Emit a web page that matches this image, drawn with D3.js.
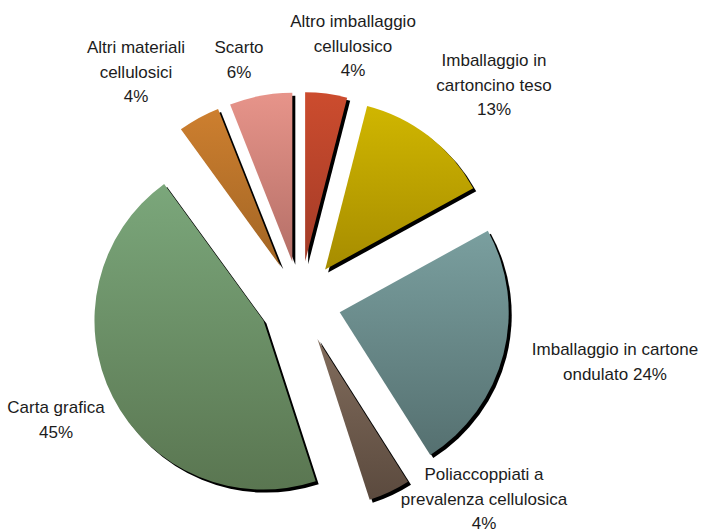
<!DOCTYPE html>
<html>
<head>
<meta charset="utf-8">
<script src="https://cdn.jsdelivr.net/npm/d3@7"></script>
<style>
  html, body { margin: 0; padding: 0; background: #ffffff; }
  svg { display: block; }
  text { font-family: "Liberation Sans", Arial, sans-serif; font-size: 17px; fill: #1c1c1c; }
</style>
</head>
<body>
<svg id="chart" width="702" height="530"></svg>
<script>
// Composition of the cellulosic material (share, %), clockwise from 12 o'clock
const categories = [
  "Altro imballaggio\ncellulosico",
  "Imballaggio in\ncartoncino teso",
  "Imballaggio in cartone\nondulato",
  "Poliaccoppiati a\nprevalenza cellulosica",
  "Carta grafica",
  "Altri materiali\ncellulosici",
  "Scarto"
];
const values = [4, 13, 24, 4, 45, 4, 6];

// Gradient fills per slice: [top colour, bottom colour]
const colorsTop    = ["#cc4c2e", "#d0b600", "#7a9f9f", "#816c5c", "#7ba77b", "#cd7f2f", "#e7948a"];
const colorsBottom = ["#a33b27", "#a68c00", "#557070", "#5b4a3e", "#5a7651", "#a26524", "#b46f67"];

// Label anchors (centre x, first baseline y) and whether the percentage shares the last line
const labelLayout = [
  { x: 353, y: 27,  inline: false },
  { x: 494, y: 66,  inline: false },
  { x: 615, y: 355, inline: true  },
  { x: 484, y: 480, inline: false },
  { x: 56,  y: 413, inline: false },
  { x: 136, y: 53,  inline: false },
  { x: 239, y: 53,  inline: false }
];

const cx = 300, cy = 302, radius = 169, explode = 41, lineH = 24.5;

const svg = d3.select("#chart");
const defs = svg.append("defs");

colorsTop.forEach((c, i) => {
  const g = defs.append("linearGradient")
    .attr("id", "grad" + i)
    .attr("x1", 0).attr("y1", 0).attr("x2", 0).attr("y2", 1);
  g.append("stop").attr("offset", "0%").attr("stop-color", c);
  g.append("stop").attr("offset", "100%").attr("stop-color", colorsBottom[i]);
});

const pie = d3.pie().sort(null).value(d => d);
const arcs = pie(values);
const arc = d3.arc().innerRadius(0).outerRadius(radius);

const root = svg.append("g").attr("transform", `translate(${cx},${cy})`);

const slices = root.selectAll("g.slice")
  .data(arcs)
  .join("g")
  .attr("class", "slice")
  .attr("transform", d => {
    const m = (d.startAngle + d.endAngle) / 2;
    return `translate(${explode * Math.sin(m)},${-explode * Math.cos(m)})`;
  });

// hard drop shadow
slices.append("path")
  .attr("d", arc)
  .attr("fill", "#000")
  .attr("transform", "translate(3,3)");

slices.append("path")
  .attr("d", arc)
  .attr("fill", (d, i) => `url(#grad${i})`);

// labels
const labels = svg.append("g").attr("class", "labels");
categories.forEach((name, i) => {
  const lay = labelLayout[i];
  const pct = values[i] + "%";
  const lines = lay.inline ? (name + " " + pct).split("\n") : (name + "\n" + pct).split("\n");
  const t = labels.append("text")
    .attr("text-anchor", "middle")
    .attr("x", lay.x)
    .attr("y", lay.y);
  lines.forEach((ln, k) => {
    t.append("tspan")
      .attr("x", lay.x)
      .attr("dy", k === 0 ? 0 : lineH)
      .text(ln);
  });
});
</script>
</body>
</html>
